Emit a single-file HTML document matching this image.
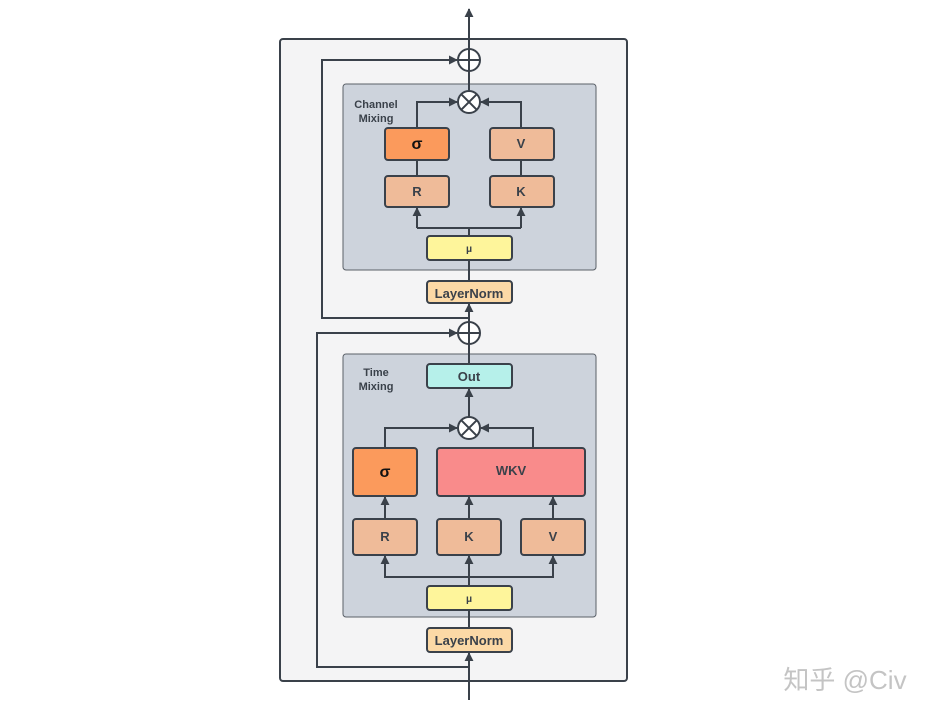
<!DOCTYPE html>
<html><head><meta charset="utf-8"><style>
html,body{margin:0;padding:0;background:#fff;width:934px;height:717px;overflow:hidden}
svg text{font-family:"Liberation Sans",sans-serif;font-weight:bold;fill:#3a414a;text-anchor:middle}
</style></head><body>
<svg width="934" height="717" viewBox="0 0 934 717" xmlns="http://www.w3.org/2000/svg">
<defs><marker id="a" viewBox="0 0 10 10" refX="9" refY="5" markerWidth="9" markerHeight="9" markerUnits="userSpaceOnUse" orient="auto"><path d="M0,0 L10,5 L0,10 Z" fill="#3a414a"/></marker></defs>
<g stroke="#3a414a" stroke-width="2" fill="none">
<rect x="280" y="39" width="347" height="642" rx="3" fill="#f4f4f5"/>
<rect x="343" y="84" width="253" height="186" rx="3" fill="#cdd3dc" stroke="#5a6068" stroke-width="1"/>
<rect x="343" y="354" width="253" height="263" rx="3" fill="#cdd3dc" stroke="#5a6068" stroke-width="1"/>
<!-- main vertical lines -->
<line x1="469" y1="700" x2="469" y2="653" marker-end="url(#a)"/>
<line x1="469" y1="628" x2="469" y2="610"/>
<line x1="469" y1="586" x2="469" y2="556" marker-end="url(#a)"/>
<path d="M469,577 H385 V556" marker-end="url(#a)"/>
<path d="M469,577 H553 V556" marker-end="url(#a)"/>
<line x1="385" y1="519" x2="385" y2="497" marker-end="url(#a)"/>
<line x1="469" y1="519" x2="469" y2="497" marker-end="url(#a)"/>
<line x1="553" y1="519" x2="553" y2="497" marker-end="url(#a)"/>
<path d="M385,448 V428 H457" marker-end="url(#a)"/>
<path d="M533,448 V428 H481" marker-end="url(#a)"/>
<line x1="469" y1="417" x2="469" y2="389" marker-end="url(#a)"/>
<line x1="469" y1="364" x2="469" y2="344"/>
<path d="M469,667 H317 V333 H457" marker-end="url(#a)"/>
<line x1="469" y1="322" x2="469" y2="304" marker-end="url(#a)"/>
<line x1="469" y1="281" x2="469" y2="260"/>
<line x1="469" y1="236" x2="469" y2="228"/>
<path d="M417,228 H521"/>
<path d="M417,228 V208" marker-end="url(#a)"/>
<path d="M521,228 V208" marker-end="url(#a)"/>
<line x1="417" y1="176" x2="417" y2="160"/>
<line x1="521" y1="176" x2="521" y2="160"/>
<path d="M417,128 V102 H457" marker-end="url(#a)"/>
<path d="M521,128 V102 H481" marker-end="url(#a)"/>
<line x1="469" y1="91" x2="469" y2="71"/>
<path d="M469,318 H322 V60 H457" marker-end="url(#a)"/>
<line x1="469" y1="49" x2="469" y2="9" marker-end="url(#a)"/>
<!-- circles -->
<circle cx="469" cy="60" r="11" fill="#fff"/><path d="M458,60 H480 M469,49 V71"/>
<circle cx="469" cy="333" r="11" fill="#fff"/><path d="M458,333 H480 M469,322 V344"/>
<circle cx="469" cy="102" r="11" fill="#fff"/><path d="M461.2,94.2 L476.8,109.8 M476.8,94.2 L461.2,109.8"/>
<circle cx="469" cy="428" r="11" fill="#fff"/><path d="M461.2,420.2 L476.8,435.8 M476.8,420.2 L461.2,435.8"/>
<!-- boxes -->
<rect x="385" y="128" width="64" height="32" rx="3" fill="#fb9a5c"/>
<rect x="490" y="128" width="64" height="32" rx="3" fill="#efbb99"/>
<rect x="385" y="176" width="64" height="31" rx="3" fill="#efbb99"/>
<rect x="490" y="176" width="64" height="31" rx="3" fill="#efbb99"/>
<rect x="427" y="236" width="85" height="24" rx="3" fill="#fef59b"/>
<rect x="427" y="281" width="85" height="22" rx="3" fill="#fcd9a6"/>
<rect x="427" y="364" width="85" height="24" rx="3" fill="#b6f0ea"/>
<rect x="353" y="448" width="64" height="48" rx="3" fill="#fb9a5c"/>
<rect x="437" y="448" width="148" height="48" rx="3" fill="#f98b8b"/>
<rect x="353" y="519" width="64" height="36" rx="3" fill="#efbb99"/>
<rect x="437" y="519" width="64" height="36" rx="3" fill="#efbb99"/>
<rect x="521" y="519" width="64" height="36" rx="3" fill="#efbb99"/>
<rect x="427" y="586" width="85" height="24" rx="3" fill="#fef59b"/>
<rect x="427" y="628" width="85" height="24" rx="3" fill="#fcd9a6"/>
</g>
<text x="376" y="108" font-size="11">Channel</text>
<text x="376" y="122" font-size="11">Mixing</text>
<text x="417" y="149" font-size="16" style="fill:#111">σ</text>
<text x="521" y="148" font-size="13">V</text>
<text x="417" y="196" font-size="13">R</text>
<text x="521" y="196" font-size="13">K</text>
<text x="469" y="252" font-size="10">μ</text>
<text x="469" y="298" font-size="13">LayerNorm</text>
<text x="376" y="376" font-size="11">Time</text>
<text x="376" y="390" font-size="11">Mixing</text>
<text x="469" y="381" font-size="13">Out</text>
<text x="385" y="477" font-size="16" style="fill:#111">σ</text>
<text x="511" y="475" font-size="13">WKV</text>
<text x="385" y="541" font-size="13">R</text>
<text x="469" y="541" font-size="13">K</text>
<text x="553" y="541" font-size="13">V</text>
<text x="469" y="602" font-size="10">μ</text>
<text x="469" y="645" font-size="13">LayerNorm</text>
<text x="845" y="689" font-size="26" style="font-weight:normal;fill:#c4c4c4;font-family:'Liberation Sans','Noto Sans CJK SC',sans-serif">知乎 @Civ</text>
</svg>
</body></html>
